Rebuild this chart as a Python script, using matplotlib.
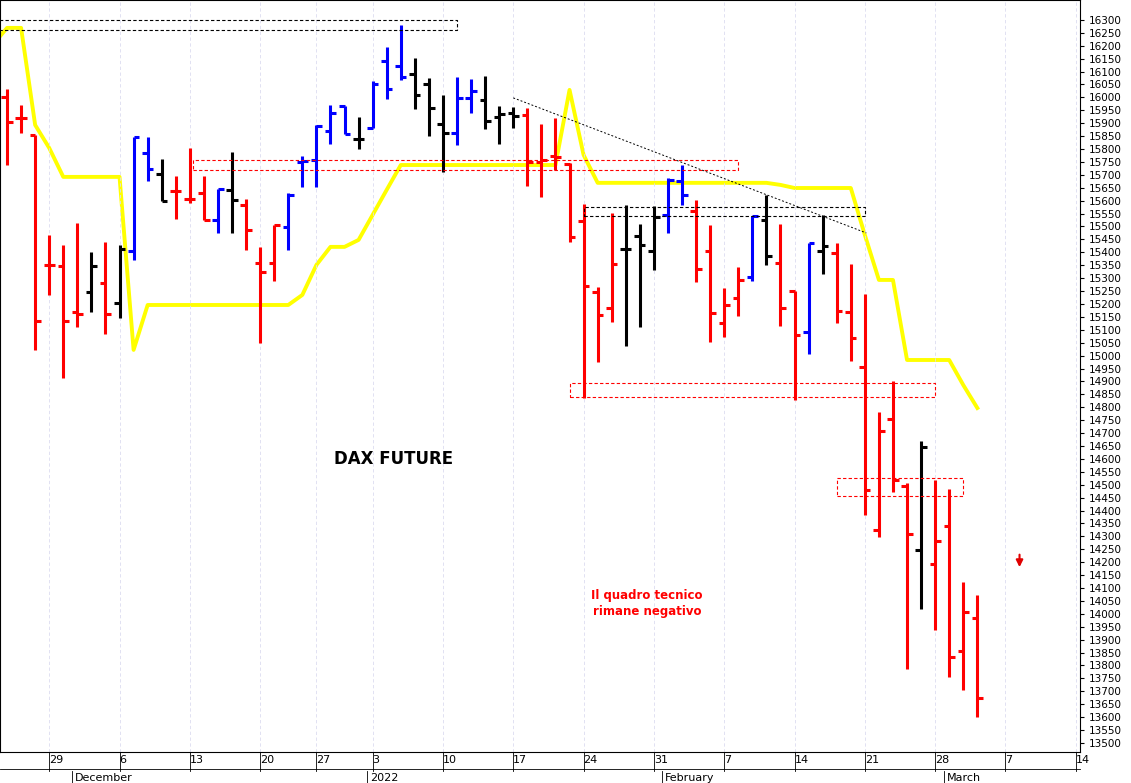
import numpy as np
import matplotlib.pyplot as plt

# OHLC bars, one per trading day (index 0 = first full bar)
opens = [16002, 15920, 15855, 15351, 15347, 15169, 15247, 15281, 15204, 15405,
         15785, 15704, 15638, 15607, 15630, 15525, 15642, 15584, 15359, 15359,
         15498, 15750, 15758, 15870, 15967, 15839, 15882, 16141, 16122, 16091,
         16052, 15897, 15862, 15998, 15990, 15924, 15940, 15932, 15750, 15773,
         15742, 15522, 15247, 15185, 15413, 15463, 15405, 15545, 15676, 15560,
         15405, 15127, 15223, 15305, 15525, 15359, 15250, 15092, 15405, 15398,
         15169, 14956, 14326, 14755, 14495, 14247, 14193, 14340, 13856, 13984]
highs = [16032, 15971, 15855, 15467, 15429, 15514, 15401, 15440, 15429, 15847,
         15847, 15762, 15696, 15804, 15696, 15646, 15789, 15607, 15421, 15506,
         15630, 15773, 15893, 15971, 15967, 15924, 16064, 16195, 16281, 16153,
         16075, 16010, 16079, 16071, 16083, 15967, 15963, 15959, 15897, 15920,
         15746, 15587, 15266, 15553, 15584, 15510, 15580, 15688, 15738, 15603,
         15506, 15262, 15343, 15541, 15622, 15510, 15250, 15436, 15545, 15436,
         15355, 15239, 14782, 14902, 14507, 14670, 14518, 14484, 14123, 14073]
lows = [15738, 15862, 15022, 15235, 14913, 15111, 15169, 15084, 15146, 15370,
        15676, 15599, 15529, 15591, 15525, 15475, 15475, 15409, 15049, 15289,
        15409, 15653, 15653, 15820, 15858, 15800, 15882, 15994, 16068, 15955,
        15851, 15711, 15816, 15940, 15878, 15820, 15882, 15657, 15614, 15719,
        15440, 14836, 14975, 15130, 15037, 15111, 15332, 15475, 15584, 15285,
        15053, 15072, 15154, 15289, 15351, 15115, 14828, 15007, 15316, 15126,
        14979, 14383, 14298, 14472, 13786, 14019, 13937, 13756, 13705, 13601]
closes = [15905, 15920, 15134, 15351, 15134, 15161, 15347, 15161, 15413, 15847,
          15723, 15599, 15638, 15607, 15525, 15646, 15603, 15487, 15324, 15506,
          15622, 15754, 15890, 15940, 15858, 15839, 16052, 16033, 16079, 16010,
          15959, 15862, 15998, 16025, 15909, 15936, 15928, 15750, 15758, 15769,
          15460, 15270, 15158, 15355, 15413, 15429, 15537, 15680, 15622, 15336,
          15165, 15196, 15293, 15541, 15386, 15185, 15080, 15436, 15425, 15173,
          15068, 14480, 14708, 14518, 14309, 14646, 14282, 13833, 14007, 13674]
colors = ['r', 'r', 'r', 'r', 'r', 'r', 'k', 'r', 'k', 'b',
          'b', 'k', 'r', 'r', 'r', 'b', 'k', 'r', 'r', 'r',
          'b', 'b', 'b', 'b', 'b', 'k', 'b', 'b', 'b', 'k',
          'k', 'k', 'b', 'b', 'k', 'k', 'k', 'r', 'r', 'r',
          'r', 'r', 'r', 'r', 'k', 'k', 'k', 'b', 'b', 'r',
          'r', 'r', 'r', 'b', 'k', 'r', 'r', 'b', 'k', 'r',
          'r', 'r', 'r', 'r', 'r', 'k', 'r', 'r', 'r', 'r']

# yellow trailing stop line (starts half a bar before the first full bar)
stop_x = [-0.6] + list(range(70))
stop_line = [16230,
             16269, 16269, 15893, 15804, 15692, 15692, 15692, 15692, 15692, 15022,
             15196, 15196, 15196, 15196, 15196, 15196, 15196, 15196, 15196, 15196,
             15196, 15235, 15351, 15421, 15421, 15448, 15545, 15642, 15738, 15738,
             15738, 15738, 15738, 15738, 15738, 15738, 15738, 15738, 15738, 15738,
             16029, 15777, 15669, 15669, 15669, 15669, 15669, 15669, 15669, 15669,
             15669, 15669, 15669, 15669, 15669, 15661, 15649, 15649, 15649, 15649,
             15649, 15467, 15293, 15293, 14983, 14983, 14983, 14983, 14886, 14797]

tick_pos = [3, 8, 13, 18, 22, 26, 31, 36, 41, 46, 51, 56, 61, 66, 71, 76]
tick_labels = ['29', '6', '13', '20', '27', '3', '10', '17', '24', '31',
               '7', '14', '21', '28', '7', '14']
months = [('December', 4.6), ('2022', 25.6), ('February', 46.6), ('March', 66.6)]

# (x0, x1, y0, y1, color)
boxes = [(-0.6, 32, 16262, 16300, 'k'),
         (13.2, 52, 15719, 15758, 'r'),
         (41, 61, 15541, 15576, 'k'),
         (40, 66, 14840, 14894, 'r'),
         (59, 68, 14457, 14526, 'r')]

fig = plt.figure(figsize=(11.31, 7.83), dpi=100)
ax = fig.add_axes([0, 31 / 783, 1080 / 1131, 752 / 783])
x = np.arange(len(opens))
cmap = {'r': '#ff0000', 'k': '#000000', 'b': '#0000ff'}
for i in x:
    c = cmap[colors[i]]
    ax.plot([i, i], [lows[i], highs[i]], color=c, lw=2.2, solid_capstyle='butt')
    ax.plot([i - 0.4, i], [opens[i], opens[i]], color=c, lw=2.2, solid_capstyle='butt')
    ax.plot([i, i + 0.4], [closes[i], closes[i]], color=c, lw=2.2, solid_capstyle='butt')

ax.plot(stop_x, stop_line, color='#ffff00', lw=2.8, zorder=1)

for x0, x1, y0, y1, c in boxes:
    ax.plot([x0, x1, x1, x0, x0], [y0, y0, y1, y1, y0], color=c, lw=0.8, ls=(0, (3, 2)))

ax.plot([36, 61.1], [15998, 15475], color='k', lw=0.7, ls=(0, (2, 2)))
ax.annotate('', xy=(72, 14170), xytext=(72, 14240),
            arrowprops=dict(arrowstyle='-|>', color='#e00000', lw=1.5, mutation_scale=10))

ax.text(27.5, 14600, 'DAX FUTURE', fontsize=12, fontweight='bold', ha='center', va='center')
ax.text(45.5, 14040, 'Il quadro tecnico\nrimane negativo', fontsize=8.5, color='#ff0000',
        fontweight='bold', ha='center', va='center', linespacing=1.3)

ax.set_xlim(-0.5, 76.3)
ax.set_ylim(13465, 16377)
ax.yaxis.tick_right()
ax.set_yticks(np.arange(13500, 16301, 50))
ax.tick_params(axis='y', labelsize=7.5, length=3)
ax.set_xticks(tick_pos)
ax.set_xticklabels(tick_labels, fontsize=8, ha='left')
ax.tick_params(axis='x', length=0, pad=2)
ax.grid(axis='x', color='#dcdcf0', ls=(0, (4, 3)), lw=0.6)
for p in tick_pos:
    ax.axvline(p, ymin=-0.025, ymax=0, color='k', lw=0.6, clip_on=False)

# month row below the day labels
trans = ax.get_xaxis_transform()
for name, p in months:
    ax.text(p + 0.2, -0.035, name, transform=trans, fontsize=8, va='center', ha='left')
    ax.plot([p, p], [-0.025, -0.045], transform=trans, color='k', lw=0.6, clip_on=False)
ax.plot([-0.5, 76.3], [-0.022, -0.022], transform=trans, color='k', lw=0.6, clip_on=False)

fig.savefig('out.png', dpi=100)
